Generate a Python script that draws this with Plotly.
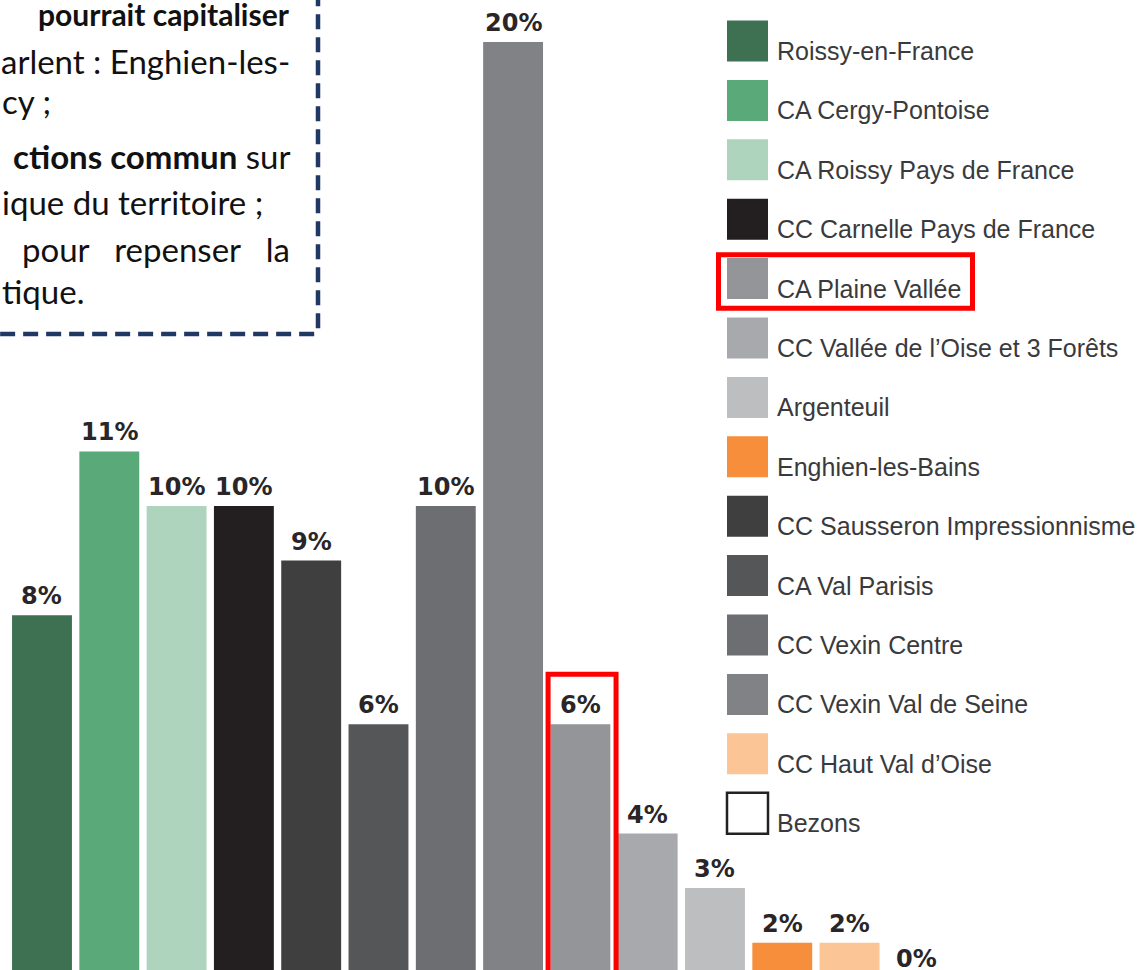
import plotly.graph_objects as go

# ordre des barres
territoires = [
    "Roissy-en-France", "CA Cergy-Pontoise", "CA Roissy Pays de France",
    "CC Carnelle Pays de France", "CC Sausseron Impressionnisme", "CA Val Parisis",
    "CC Vexin Centre", "CC Vexin Val de Seine", "CA Plaine Vallée",
    "CC Vallée de l’Oise et 3 Forêts", "Argenteuil", "Enghien-les-Bains",
    "CC Haut Val d’Oise", "Bezons",
]
hauteurs = [8, 11, 10, 10, 9, 6, 10, 18.5, 6, 4, 3, 2, 2, 0]
etiquettes = ["8%", "11%", "10%", "10%", "9%", "6%", "10%", "20%", "6%", "4%", "3%", "2%", "2%", "0%"]

# ordre de la légende
legende = [
    "Roissy-en-France", "CA Cergy-Pontoise", "CA Roissy Pays de France",
    "CC Carnelle Pays de France", "CA Plaine Vallée", "CC Vallée de l’Oise et 3 Forêts",
    "Argenteuil", "Enghien-les-Bains", "CC Sausseron Impressionnisme", "CA Val Parisis",
    "CC Vexin Centre", "CC Vexin Val de Seine", "CC Haut Val d’Oise", "Bezons",
]

couleurs = {
    "Roissy-en-France": "#3e7152",
    "CA Cergy-Pontoise": "#5aa978",
    "CA Roissy Pays de France": "#aed4bd",
    "CC Carnelle Pays de France": "#231f20",
    "CC Sausseron Impressionnisme": "#3f3f40",
    "CA Val Parisis": "#555658",
    "CC Vexin Centre": "#6d6e71",
    "CC Vexin Val de Seine": "#808285",
    "CA Plaine Vallée": "#939598",
    "CC Vallée de l’Oise et 3 Forêts": "#a7a9ac",
    "Argenteuil": "#bcbec0",
    "Enghien-les-Bains": "#f68e3c",
    "CC Haut Val d’Oise": "#fbc595",
    "Bezons": "#ffffff",
}

nb = "\u00a0"
texte_cadre = [
    ("<b>pourrait capitaliser</b>", "right", 25),
    ("arlent : Enghien-les-", "right", 72),
    ("cy ;", "left", 112),
    ("<b>ctions commun</b> sur", "right", 167),
    ("ique du territoire ;", "left", 213),
    (f"pour{nb * 3}repenser{nb * 3}la", "right", 260),
    ("tique.", "left", 302),
]

W, H = 1143, 970
Y_MIN = 1.5

fig = go.Figure()
fig.add_trace(go.Bar(
    x=territoires, y=hauteurs, width=0.89,
    marker=dict(color=[couleurs[t] for t in territoires],
                line=dict(width=[0] * 13 + [2], color="#222")),
    showlegend=False, hoverinfo="x+y",
))

for t, h, lab in zip(territoires, hauteurs, etiquettes):
    fig.add_annotation(x=t, y=max(h, Y_MIN), xref="x", yref="y", text=lab,
                       showarrow=False, yanchor="bottom", yshift=3 if h >= Y_MIN else -5,
                       font=dict(family="DejaVu Sans", size=24, color="#2a2628", weight="bold"))

# légende dessinée
fig.add_trace(go.Scatter(
    x=[0] * len(legende), y=list(range(len(legende))), xaxis="x2", yaxis="y2",
    mode="markers", showlegend=False, hoverinfo="text", text=legende,
    marker=dict(symbol="square", size=41, color=[couleurs[n] for n in legende],
                line=dict(width=[0] * 13 + [2.5], color="#222")),
))
for i, n in enumerate(legende):
    fig.add_annotation(x=0, y=i, xref="x2", yref="y2", text=n, showarrow=False,
                       xanchor="left", xshift=27, yanchor="middle", yshift=-10,
                       font=dict(family="Liberation Sans", size=25, color="#3a3a3c"))

for txt, align, base in texte_cadre:
    taille = 30 if txt.startswith("<b>pourrait") else 33
    fig.add_annotation(x=292 / W if align == "right" else 0, y=1 - (base - 11) / H,
                       xref="paper", yref="paper", text=txt, showarrow=False,
                       xanchor=align, yanchor="middle",
                       font=dict(family="Lato", size=taille, color="#111"))

# cadre pointillé
fig.add_shape(type="path", xref="paper", yref="paper",
              path=f"M -0.02 {1 - 334 / H} L {314 / W} {1 - 334 / H} Q {318 / W} {1 - 334 / H} {318 / W} {1 - 330 / H} L {318 / W} 1.02",
              line=dict(color="#1f3864", width=4.5, dash="15px,8px"))

# encadrés rouges
fig.add_shape(type="rect", xref="x", yref="y", x0=7.52, x1=8.53, y0=-1, y1=6.92,
              line=dict(color="#ff0000", width=5))
fig.add_shape(type="rect", xref="x2", yref="y2", x0=-29, x1=225, y0=3.6, y1=4.5,
              line=dict(color="#ff0000", width=5))

fig.update_layout(
    width=W, height=H, margin=dict(l=0, r=0, t=0, b=0),
    paper_bgcolor="white", plot_bgcolor="white",
    xaxis=dict(range=[-0.624, 16.36], visible=False),
    yaxis=dict(range=[Y_MIN, 19.27], visible=False),
    xaxis2=dict(range=[-747.5, 395.5], visible=False, overlaying="x", anchor="y2"),
    yaxis2=dict(range=[15.64, -0.69], visible=False, overlaying="y", anchor="x2"),
)

fig.write_html("out.html", config={"displayModeBar": False},
               post_script="document.body.style.margin='0';")
